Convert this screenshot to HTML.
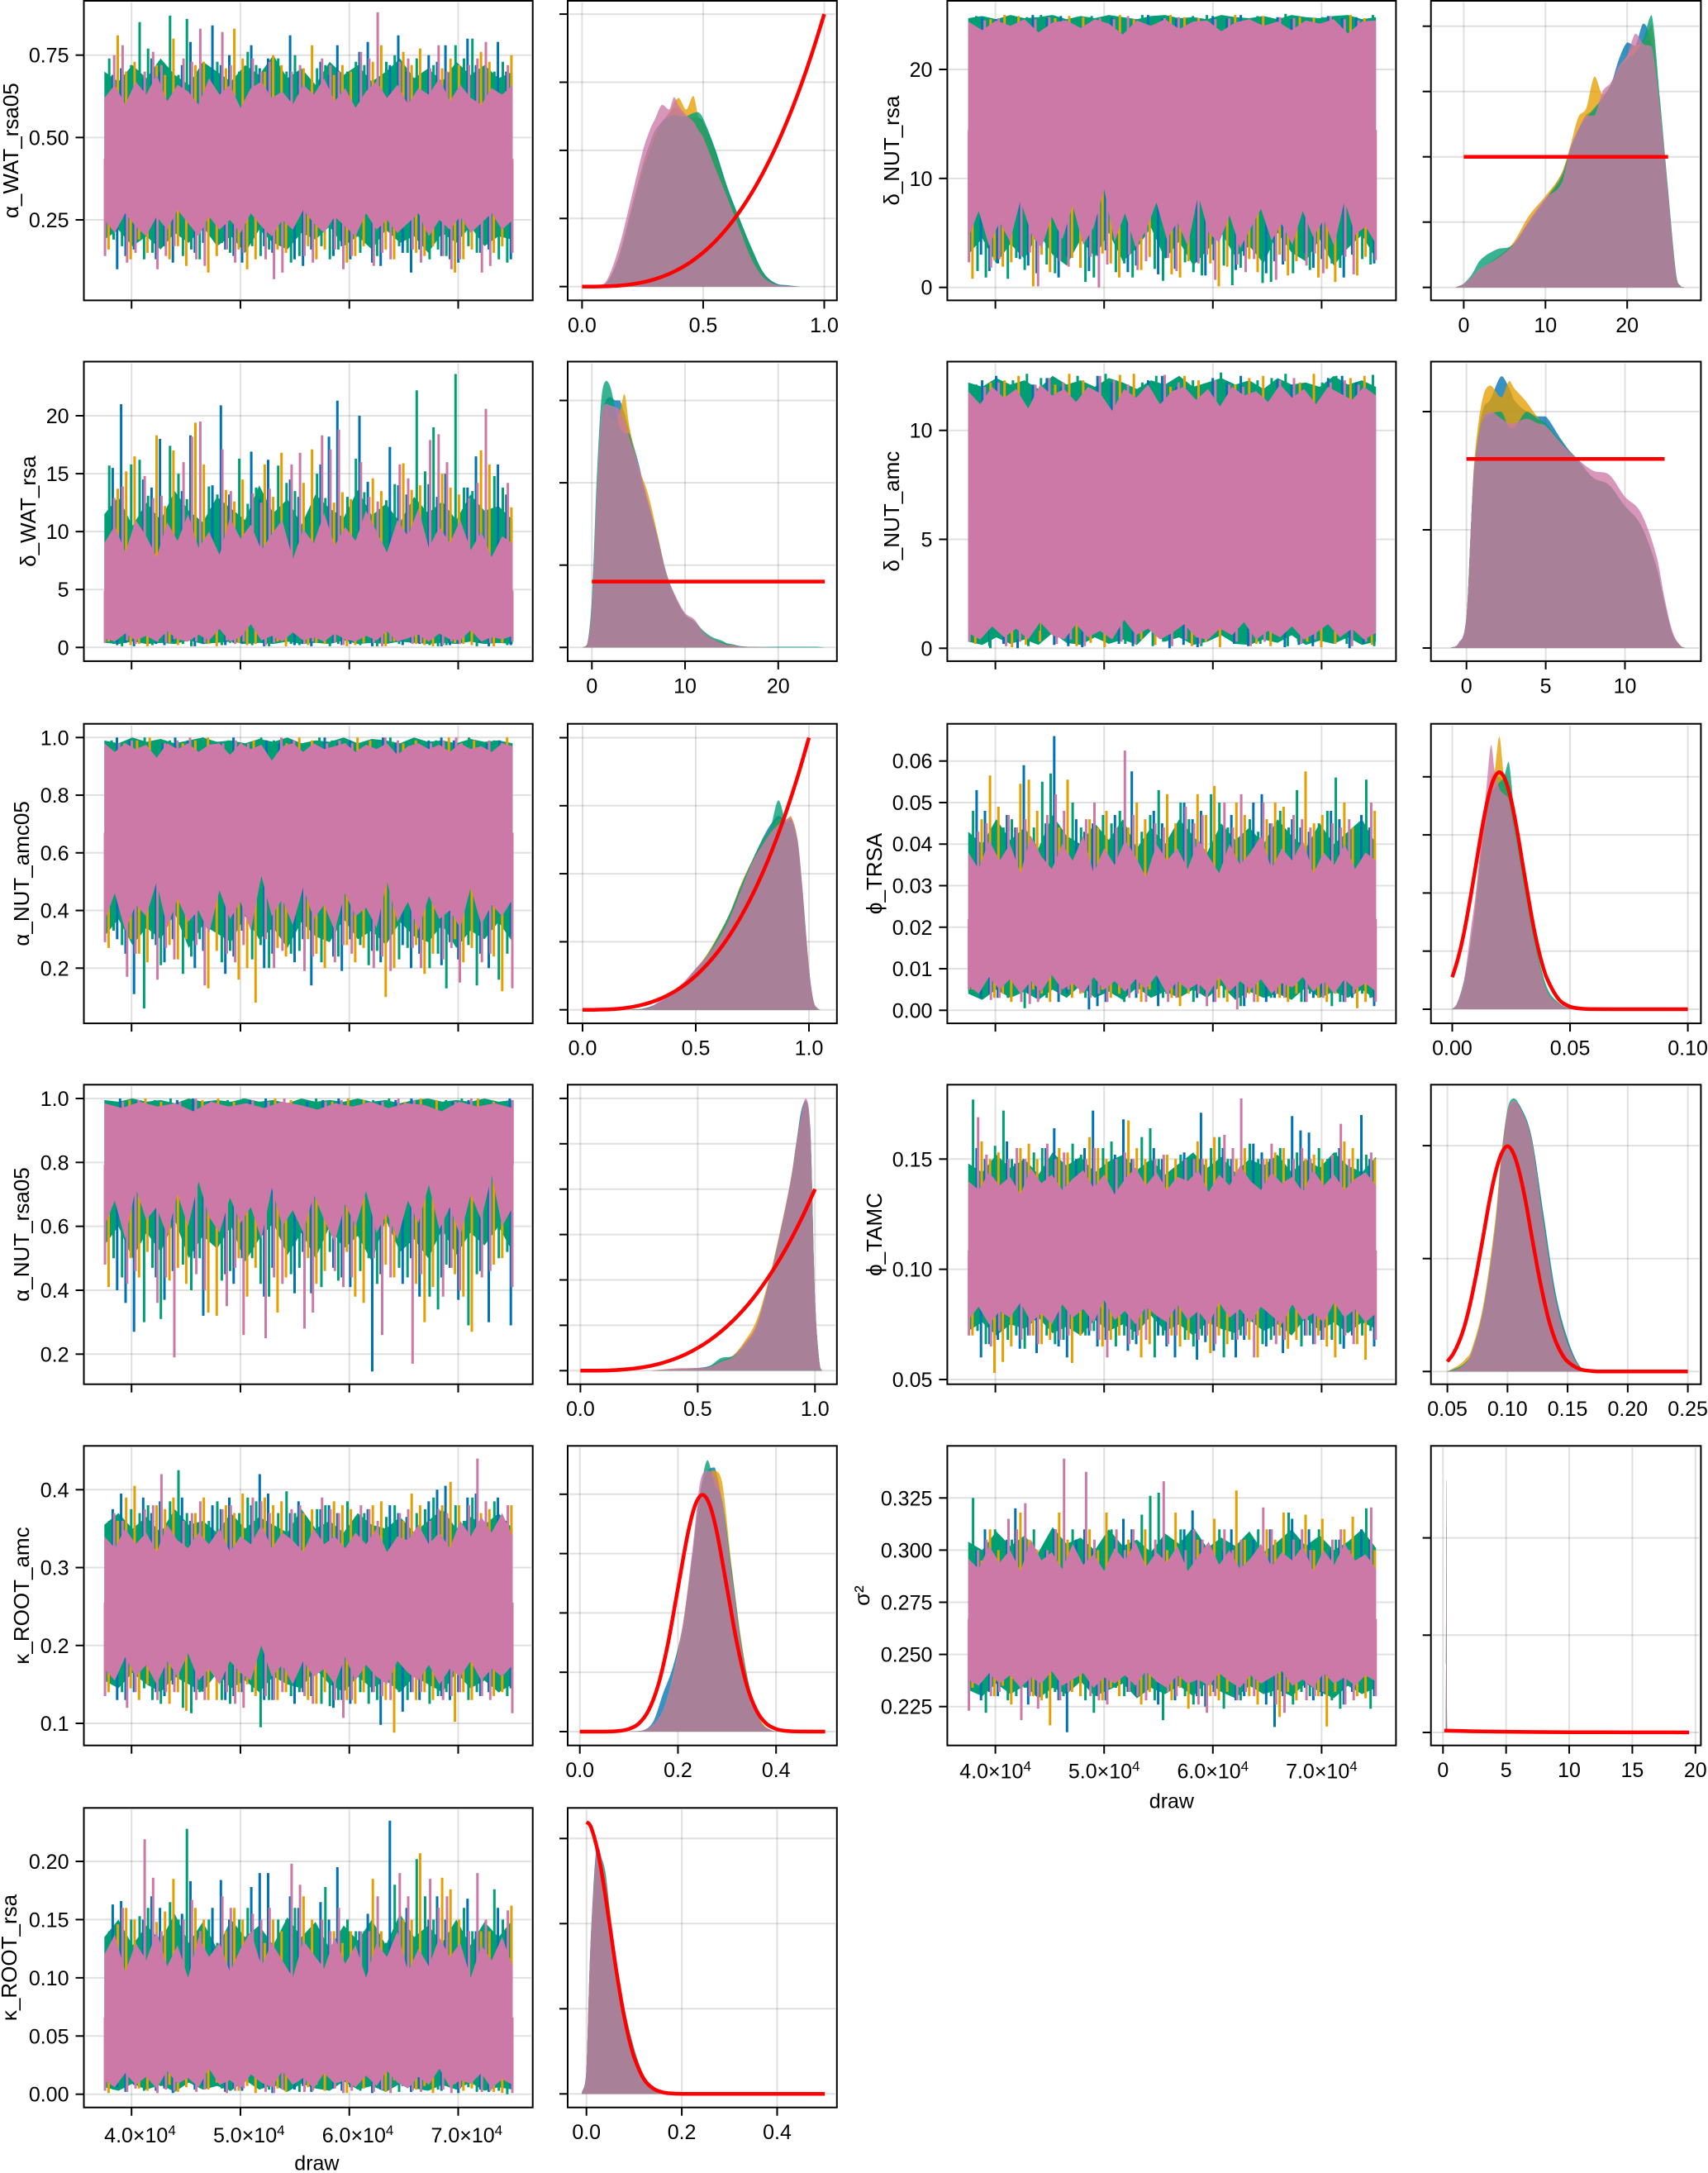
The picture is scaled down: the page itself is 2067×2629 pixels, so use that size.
<!DOCTYPE html>
<html><head><meta charset="utf-8"><title>MCMC trace and density plots</title>
<style>html,body{margin:0;padding:0;background:#fff}svg{display:block}text{font-family:"Liberation Sans","DejaVu Sans",sans-serif;fill:#000}</style>
</head><body>
<svg id="chart" xmlns="http://www.w3.org/2000/svg" width="2067" height="2629" viewBox="0 0 2067 2629"></svg>
<script>
// ---- shared values
const drawFirst = 37500, drawLast = 75000;
const drawTicks = [40000, 50000, 60000, 70000];
const drawTickMantissa = ['4.0', '5.0', '6.0', '7.0'];
const chainNames = ['blue', 'orange', 'green', 'pink'];
const chainColors = ['#0072B2', '#E69F00', '#009E73', '#CC79A7'];
const betaPriorX = [0,.05,.1,.15,.2,.25,.3,.35,.4,.45,.5,.55,.6,.65,.7,.75,.8,.85,.9,.95,1];
const betaPriorPdf = [0,.0005,.004,.0135,.032,.0625,.108,.1715,.256,.3645,.5,.6655,.864,1.0985,1.372,1.6875,2.048,2.4565,2.916,3.4295,4];

// ---- alpha_WAT_rsa05
const awrHiBlue = [.69,.71,.68,.74,.7,.72,.79,.84,.72,.75,.78,.71,.74,.81,.7,.73,.69,.78,.76,.79,.72,.81,.7,.75,.73,.78,.8,.72,.79,.7];
const awrHiOrange = [.81,.7,.73,.72,.69,.8,.72,.73,.71,.83,.74,.7,.75,.72,.71,.78,.69,.72,.7,.73,.78,.76,.72,.77,.71,.74,.72,.76,.73,.75];
const awrHiGreen = [.74,.72,.85,.77,.87,.69,.86,.71,.73,.7,.76,.72,.74,.7,.75,.71,.72,.7,.73,.72,.73,.75,.74,.7,.72,.78,.74,.8,.7,.73];
const awrHiPink = [.75,.78,.7,.76,.72,.74,.73,.83,.82,.72,.74,.7,.73,.7,.72,.74,.72,.7,.76,.74,.88,.73,.74,.71,.78,.7,.72,.74,.79,.72];
const awrLoBlue = [.1,.14,.16,.13,.17,.12,.15,.18,.16,.14,.12,.17,.15,.13,.11,.16,.14,.17,.13,.12,.11,.15,.09,.16,.14,.13,.12,.15,.16,.13];
const awrLoOrange = [.16,.13,.19,.15,.13,.17,.11,.09,.14,.16,.1,.13,.16,.15,.17,.13,.16,.12,.14,.17,.16,.13,.15,.14,.17,.09,.13,.16,.15,.17];
const awrLoGreen = [.19,.17,.13,.15,.18,.14,.16,.13,.18,.15,.17,.14,.16,.12,.14,.17,.13,.16,.15,.18,.14,.17,.15,.13,.16,.14,.17,.15,.13,.12];
const awrLoPink = [.14,.12,.15,.1,.14,.17,.13,.11,.16,.12,.15,.13,.07,.09,.14,.12,.16,.1,.14,.11,.15,.13,.16,.12,.14,.1,.13,.09,.11,.15];
const awrCoreHi = [.62,.66,.6,.67,.63,.69,.61,.66,.64,.6,.68,.63,.66,.59,.65,.67,.62,.64,.6,.66,.63,.68,.61,.65,.59,.64,.67,.62,.66,.6,.65,.63,.68,.61,.66,.62,.6,.65,.63,.66];
const awrCoreLo = [.25,.21,.27,.23,.2,.26,.22,.28,.24,.2,.26,.22,.25,.21,.27,.23,.2,.25,.22,.28,.24,.21,.26,.23,.2,.27,.22,.25,.21,.24,.27,.2,.25,.22,.26,.21,.24,.27,.22,.25];
const awrFringeHi = [.7,.67,.72,.68,.74,.69,.66,.73,.7,.67,.72,.69,.75,.68,.71,.66,.73,.69,.72,.67,.7,.74,.68,.71,.67,.73,.69,.72,.68,.7];
const awrFringeLo = [.19,.22,.17,.2,.16,.21,.18,.23,.17,.2,.15,.22,.18,.16,.21,.19,.23,.17,.2,.16,.22,.18,.2,.15,.21,.18,.23,.17,.2,.19];
const awrDensX = [.05,.1,.15,.2,.25,.28,.3,.33,.36,.38,.4,.43,.46,.48,.5,.55,.6,.65,.7,.75,.8,.85,.9];
const awrDensBlue = [0,.05,.43,1.1,1.78,2.1,2.28,2.42,2.55,2.62,2.6,2.5,2.48,2.48,2.42,2,1.45,1,.55,.2,.05,.02,0];
const awrDensOrange = [0,.05,.42,1.08,1.75,2.05,2.25,2.4,2.55,2.7,2.77,2.6,2.8,2.5,2.4,1.95,1.4,.95,.5,.17,.03,.01,0];
const awrDensGreen = [0,.05,.4,1.05,1.7,2,2.2,2.4,2.5,2.52,2.5,2.5,2.55,2.56,2.47,2.02,1.46,1,.57,.2,.04,.01,0];
const awrDensPink = [0,.08,.55,1.25,1.98,2.3,2.45,2.67,2.6,2.78,2.65,2.52,2.42,2.3,2.19,1.74,1.3,.85,.4,.13,.03,.01,0];

// ---- delta_WAT_rsa
const dwrHiBlue = [15.5,21,14.5,13.8,18,13.5,18.3,14,20.9,13.2,16.9,12.8,16.2,14.5,13,15.8,18.2,21.3,20,14.3,17.3,14,13.2,14.1,13,15,13.8,16.5,15.8,13.2];
const dwrHiOrange = [13.7,15.2,16.5,18.3,12.2,17,19.4,15.8,13.6,12.6,14.5,15.8,13,16.8,14.2,17.1,12.5,13.4,12.8,14.6,13.5,15.9,13.6,14,15,13.8,13.2,17,15.8,12.1];
const dwrHiGreen = [15.7,15.8,16.2,13.1,17.4,15,12.8,13.9,13.2,16.3,12.4,13.8,15.7,14.2,13.5,15,12.9,13,16.3,13.4,12.7,14.1,22.2,15.2,19,23.6,13.8,13.5,14.8,13.8];
const dwrHiPink = [12.9,13.9,14.8,12.9,13.1,16,18.2,19.5,17.1,13.5,13.3,12.5,13.7,15.8,16.8,18.3,17.1,18.8,16,13,12.6,15.8,14.6,17.9,18.4,16,12.9,14.2,20.6,14.2];
const dwrLoBlue = [.2,.4,.1,.3,.2,.5,.1,.3,.2,.4,.3,.1,.4,.2,.3,.1,.4,.2,.3,.1,.5,.2,.4,.3,.1,.2,.3,.4,.1,.2];
const dwrLoOrange = [.5,.2,.3,.1,.4,.2,.5,.3,.1,.4,.2,.3,.5,.1,.2,.4,.3,.1,.2,.4,.1,.5,.3,.2,.1,.4,.3,.2,.1,.4];
const dwrLoGreen = [.3,.1,.6,.2,.4,.3,.1,.7,.2,.4,.2,.6,.1,.3,.2,.5,.1,.3,.2,.4,.1,.3,.6,.2,.1,.2,.6,.1,.4,.2];
const dwrLoPink = [.4,.6,.3,.5,.4,.7,.5,.4,.6,.3,.5,.2,.4,.6,.3,.5,.4,.2,.6,.4,.1,.5,.3,.4,.2,.5,.3,.6,.4,.5];
const dwrCoreHi = [9,10.5,8.2,11,9.6,7.8,10.8,9.2,11.5,8.6,10,8,11.2,9.4,10.6,8.4,9.8,11,7.6,10.2,9,11.6,8.8,10.4,9.2,11.8,10,8.2,11,9.6,12,8.6,10.4,9,11,8.4,10,7.8,9.6,9];
const dwrCoreLo = [.8,.5,1.2,.6,1,.5,1.4,.7,.5,1.1,.6,1.6,.5,.9,2,.6,1,.5,1.3,.6,.9,.5,1.2,.7,.5,1,.6,1.4,.5,.8,1.1,.5,1.2,.7,.6,1.5,.5,.9,.7,1];
const dwrFringeHi = [11.5,13,10.5,12.5,11,13.5,11.8,10.8,13,12,11,14,11.6,12.8,10.6,13.2,12,11.2,13.6,11.4,12.4,10.8,13,11.6,12.6,11,13.2,11.8,12.2,11];
const dwrFringeLo = [.4,.3,.5,.3,.4,.3,.6,.3,.4,.5,.3,.4,.3,.5,.3,.4,.3,.6,.3,.4,.3,.5,.4,.3,.4,.3,.5,.3,.4,.3];
const dwrDensX = [-1,-.5,0,.5,1,1.5,2,2.5,3,3.5,4,5,6,7,8,9,10,11,12,13,14,15,16,18,20,22,24,25];
const dwrDensBlue = [0,.002,.025,.085,.135,.15,.152,.15,.15,.142,.132,.112,.088,.067,.045,.03,.02,.015,.009,.005,.003,.002,.0008,.0002,.0002,.0002,.0002,0];
const dwrDensOrange = [0,.002,.023,.085,.13,.145,.14,.138,.143,.154,.135,.11,.094,.07,.045,.03,.02,.015,.009,.005,.003,.0015,.0005,.0002,0,.0001,0,0];
const dwrDensGreen = [0,.002,.03,.1,.15,.162,.158,.145,.134,.13,.13,.108,.088,.068,.045,.03,.02,.016,.01,.006,.004,.001,.0005,.0002,.0004,.0004,.0004,0];
const dwrDensPink = [0,.002,.025,.09,.14,.148,.147,.146,.144,.137,.128,.11,.09,.068,.045,.031,.021,.017,.009,.005,.0025,.001,.0005,.0002,0,0,0,0];
const dwrPriorX = [0,25];
const dwrPriorPdf = [.04,.04];

// ---- alpha_NUT_amc05
const anaHiBlue = [1,.99,.98,1,.99,.98,1,.99,.98,.99,1,.98,.99,1,.98,.99,1,.99,.98,.99];
const anaHiOrange = [.98,.99,1,.98,.99,1,.98,.99,.98,1,.99,.98,1,.99,.98,.99,1,.98,.99,1];
const anaHiGreen = [.99,1,.98,.99,1,.98,.99,1,.99,.98,1,.99,.98,.99,1,.98,.99,1,.98,.99];
const anaHiPink = [.98,.99,.98,.99,1,.98,.99,.98,1,.99,.98,.99,.98,1,.99,.98,.99,1,.99,.98];
const anaLoBlue = [.3,.25,.11,.28,.22,.3,.2,.26,.18,.24,.33,.2,.25,.22,.3,.14,.24,.19,.3,.26,.22,.28,.2,.25,.21,.29,.23,.25,.2,.31];
const anaLoOrange = [.27,.3,.25,.22,.28,.23,.3,.13,.26,.16,.2,.08,.27,.24,.3,.25,.2,.28,.22,.27,.1,.2,.28,.18,.25,.3,.22,.27,.24,.12];
const anaLoGreen = [.33,.28,.06,.3,.21,.18,.24,.3,.22,.26,.23,.28,.2,.25,.26,.22,.3,.24,.28,.21,.26,.23,.27,.2,.25,.13,.28,.14,.16,.25];
const anaLoPink = [.29,.17,.25,.16,.27,.23,.28,.14,.25,.22,.28,.3,.2,.26,.19,.24,.22,.28,.25,.2,.24,.19,.27,.2,.23,.27,.15,.22,.25,.13];
const anaCoreHi = [.98,.95,.98,.96,.975,.93,.98,.96,.98,.95,.975,.98,.94,.98,.96,.975,.92,.97,.98,.95,.98,.96,.97,.98,.95,.975,.96,.98,.94,.97,.98,.96,.975,.95,.98,.96,.97,.95,.98,.97];
const anaCoreLo = [.36,.46,.33,.42,.38,.5,.34,.44,.36,.4,.32,.47,.37,.43,.33,.52,.38,.44,.35,.48,.37,.42,.33,.46,.38,.41,.34,.5,.36,.43,.33,.45,.37,.4,.34,.48,.35,.42,.38,.44];
const anaFringeHi = [.99,.98,1,.985,.995,.98,.99,1,.985,.99,.98,.995,.985,1,.98,.99,.985,1,.98,.995,.99,.98,1,.985,.99,.98,.995,.985,.99,.98];
const anaFringeLo = [.31,.37,.28,.34,.3,.39,.27,.35,.32,.29,.38,.3,.34,.27,.36,.31,.29,.37,.3,.33,.28,.36,.31,.29,.35,.27,.33,.3,.36,.29];
const anaDensX = [.2,.25,.3,.35,.4,.45,.5,.55,.6,.65,.7,.75,.8,.83,.865,.9,.92,.95,.97,1,1.02,1.04,1.05];
const anaDensBlue = [0,.01,.05,.13,.24,.38,.58,.8,1.1,1.4,1.8,2.2,2.55,2.72,2.85,2.78,2.8,2.45,1.8,.6,.12,.01,0];
const anaDensOrange = [0,.01,.04,.12,.24,.4,.6,.82,1.1,1.42,1.85,2.2,2.5,2.65,2.8,2.8,2.85,2.5,1.8,.6,.12,.01,0];
const anaDensGreen = [0,.01,.04,.12,.25,.4,.6,.8,1.08,1.42,1.83,2.2,2.52,2.68,3.08,2.75,2.8,2.45,1.8,.6,.12,.01,0];
const anaDensPink = [0,.01,.04,.16,.28,.42,.61,.79,1.03,1.35,1.76,2.17,2.45,2.6,2.72,2.8,2.83,2.5,1.84,.63,.14,.02,0];

// ---- alpha_NUT_rsa05
const anrHiBlue = [1,.99,.995,1,.99,.995,1,.99,.995,1,.99,.995,1,.99,.995,1];
const anrHiOrange = [.995,1,.99,.995,1,.99,1,.995,.99,1,.995,.99,1,.995,1,.99];
const anrHiGreen = [.99,.995,1,.99,.995,1,.99,.995,1,.99,.995,1,.99,.995,1,.99];
const anrHiPink = [.99,.995,.99,1,.99,.995,.99,1,.99,.995,.99,1,.995,.99,1,.995];
const anrLoBlue = [.4,.36,.27,.44,.37,.46,.5,.32,.45,.42,.5,.38,.47,.39,.52,.39,.47,.44,.41,.146,.45,.42,.5,.38,.44,.47,.37,.46,.3,.29];
const anrLoOrange = [.41,.5,.44,.52,.43,.47,.42,.33,.32,.5,.38,.47,.33,.44,.5,.42,.46,.52,.38,.36,.48,.44,.42,.3,.41,.45,.38,.27,.48,.5];
const anrLoGreen = [.5,.44,.3,.47,.31,.48,.4,.5,.43,.46,.5,.42,.38,.45,.47,.41,.52,.43,.46,.5,.42,.47,.44,.38,.34,.48,.29,.45,.5,.52];
const anrLoPink = [.48,.42,.46,.36,.44,.19,.45,.4,.35,.47,.26,.25,.44,.42,.28,.33,.46,.41,.44,.5,.26,.44,.17,.45,.38,.47,.4,.44,.46,.41];
const anrCoreHi = [.985,.97,.99,.975,.985,.96,.99,.975,.985,.97,.99,.98,.965,.985,.975,.99,.97,.985,.98,.96,.99,.975,.985,.97];
const anrCoreLo = [.6,.68,.56,.72,.62,.66,.57,.7,.6,.74,.63,.58,.69,.61,.66,.56,.72,.6,.65,.58,.7,.62,.55,.67,.6,.71,.58,.64,.56,.68,.61,.73,.59,.66,.57,.7,.62,.76,.6,.66];
const anrFringeHi = [.995,.99,1,.99,.995,.985,1,.99,.995,.99,1,.99,.995,.985,1,.99,.995,.99,1,.99,.995,.985,.995,1,.99,.995,.99,1,.99,.995];
const anrFringeLo = [.54,.6,.5,.58,.52,.62,.5,.57,.53,.6,.49,.56,.61,.51,.58,.5,.6,.53,.57,.49,.62,.52,.56,.5,.59,.51,.58,.54,.6,.52];
const anrDensX = [.3,.4,.5,.55,.6,.65,.7,.75,.8,.85,.9,.92,.94,.96,.98,1,1.02,1.03];
const anrDensBlue = [0,.03,.06,.1,.22,.33,.6,1,1.85,2.95,4.3,5,5.7,5.95,5.3,1.6,.15,0];
const anrDensOrange = [0,.04,.05,.08,.2,.33,.65,1.1,1.95,3.05,4.3,5,5.55,5.9,5.3,1.6,.15,0];
const anrDensGreen = [0,.02,.05,.1,.28,.32,.55,.95,1.9,3,4.25,5,5.6,5.95,5.35,1.6,.15,0];
const anrDensPink = [0,.05,.06,.08,.2,.3,.6,1,1.9,3,4.3,5,5.6,6,5.4,1.6,.15,0];

// ---- kappa_ROOT_amc
const kraHiBlue = [.375,.395,.39,.37,.385,.39,.36,.38,.375,.39,.38,.42,.395,.37,.385,.375,.38,.37,.365,.375,.38,.37,.365,.385,.4,.405,.39,.395,.39,.36];
const kraHiOrange = [.36,.39,.405,.38,.375,.39,.37,.39,.38,.37,.395,.39,.38,.385,.37,.375,.385,.38,.375,.38,.385,.36,.395,.38,.38,.41,.38,.37,.375,.38];
const kraHiGreen = [.36,.375,.37,.38,.385,.425,.37,.36,.385,.37,.39,.385,.37,.398,.37,.375,.38,.385,.365,.37,.365,.38,.37,.375,.39,.38,.36,.39,.385,.36];
const kraHiPink = [.37,.36,.375,.38,.42,.36,.37,.385,.375,.38,.39,.385,.37,.375,.38,.39,.375,.37,.38,.375,.36,.37,.375,.36,.375,.37,.38,.44,.385,.38];
const kraLoBlue = [.13,.13,.14,.14,.135,.15,.14,.145,.13,.135,.14,.13,.13,.125,.14,.135,.12,.13,.125,.14,.098,.115,.14,.13,.135,.13,.14,.135,.14,.145];
const kraLoOrange = [.14,.145,.13,.15,.125,.14,.116,.13,.13,.14,.15,.135,.13,.14,.13,.125,.14,.13,.125,.14,.13,.088,.13,.14,.13,.102,.14,.13,.135,.14];
const kraLoGreen = [.15,.14,.145,.13,.125,.12,.113,.14,.13,.125,.14,.095,.13,.135,.14,.125,.122,.13,.14,.125,.13,.14,.13,.125,.135,.14,.13,.14,.14,.135];
const kraLoPink = [.135,.12,.14,.13,.14,.14,.13,.13,.14,.125,.12,.135,.13,.14,.135,.125,.13,.107,.13,.14,.135,.13,.14,.14,.13,.135,.14,.135,.13,.113];
const kraCoreHi = [.34,.325,.35,.33,.345,.32,.355,.335,.325,.345,.33,.35,.32,.34,.33,.355,.325,.345,.335,.32,.35,.33,.34,.325,.345,.33,.35,.32,.34,.335,.355,.33,.345,.325,.36,.34,.365,.345,.37,.34];
const kraCoreLo = [.17,.155,.185,.16,.175,.15,.18,.16,.19,.155,.17,.15,.18,.165,.155,.2,.16,.175,.15,.18,.16,.17,.15,.185,.155,.175,.16,.15,.18,.165,.155,.175,.15,.17,.16,.18,.155,.17,.16,.175];
const kraFringeHi = [.355,.37,.35,.365,.345,.375,.355,.36,.345,.37,.35,.365,.355,.345,.375,.35,.36,.345,.37,.355,.35,.365,.345,.36,.375,.35,.365,.355,.37,.35];
const kraFringeLo = [.155,.145,.165,.15,.14,.16,.15,.14,.165,.145,.155,.14,.16,.15,.145,.17,.15,.14,.16,.145,.155,.14,.16,.15,.14,.165,.145,.155,.14,.15];
const kraDensX = [.1,.13,.15,.17,.19,.21,.23,.245,.26,.275,.29,.31,.33,.35,.37,.39,.41];
const kraDensBlue = [0,.05,.35,1.3,2.2,3.6,6,8,8.8,8.9,7.7,5.1,2.8,1.1,.3,.05,0];
const kraDensOrange = [0,.04,.2,.7,1.9,3.6,6,7.9,8.7,8.8,8.4,5.5,3,1.2,.35,.05,0];
const kraDensGreen = [0,.04,.22,.7,1.8,3.4,6,8,9.15,8.3,7.8,5.4,2.9,1.2,.3,.05,0];
const kraDensPink = [0,.05,.25,.75,1.9,3.6,6.2,8.4,8.8,8.6,7.8,5.2,2.8,1.1,.3,.05,0];
const kraPriorX = [0,.05,.08,.1,.12,.14,.16,.18,.2,.22,.235,.25,.265,.28,.3,.32,.34,.36,.38,.4,.42,.45,.5];
const kraPriorPdf = [0,0,.025,.089,.27,.71,1.58,3,4.84,6.66,7.63,7.98,7.63,6.66,4.84,3,1.58,.71,.27,.089,.025,.002,0];

// ---- kappa_ROOT_rsa
const krrHiBlue = [.163,.166,.15,.17,.16,.155,.183,.16,.184,.15,.178,.19,.19,.17,.16,.165,.15,.195,.14,.155,.235,.14,.16,.15,.17,.15,.168,.14,.16,.14];
const krrHiOrange = [.146,.16,.15,.148,.157,.185,.16,.15,.14,.16,.15,.13,.15,.14,.17,.15,.14,.13,.14,.185,.14,.15,.15,.207,.186,.176,.15,.14,.14,.162];
const krrHiGreen = [.14,.15,.153,.16,.165,.15,.228,.15,.13,.15,.16,.14,.15,.15,.16,.14,.178,.15,.14,.14,.13,.18,.202,.17,.15,.14,.16,.14,.176,.15];
const krrHiPink = [.135,.16,.219,.186,.14,.15,.167,.14,.17,.16,.155,.15,.16,.198,.18,.15,.14,.16,.14,.14,.17,.19,.17,.185,.16,.17,.14,.19,.15,.158];
const krrLoBlue = [.006,.002,.008,.003,.005,.001,.004,.007,.002,.005,.003,.006,.001,.004,.007,.002,.005,.003,.006,.001,.004,.007,.002,.005,.003,.006,.001,.004,.002,.005];
const krrLoOrange = [.001,.022,.005,.003,.008,.002,.006,.004,.01,.003,.007,.001,.005,.002,.006,.008,.003,.001,.01,.005,.002,.012,.004,.007,.001,.009,.003,.005,.002,.001];
const krrLoGreen = [.004,.012,.003,.016,.007,.012,.01,.015,.005,.003,.011,.006,.004,.014,.002,.009,.005,.013,.003,.012,.006,.002,.009,.016,.004,.008,.006,.002,.003,0];
const krrLoPink = [.003,.002,.005,.001,.004,.003,.002,.004,.001,.003,.005,.002,.001,.004,.002,.003,.005,.001,.003,.002,.004,.001,.003,.002,.004,.001,.005,.002,.003,.001];
const krrCoreHi = [.12,.137,.105,.13,.115,.14,.11,.128,.1,.135,.118,.13,.105,.125,.14,.11,.13,.115,.1,.132,.12,.108,.135,.112,.128,.1,.13,.118,.14,.105,.125,.11,.135,.118,.13,.1,.128,.115,.135,.11];
const krrCoreLo = [.012,.006,.018,.008,.015,.005,.02,.009,.014,.006,.022,.008,.012,.005,.017,.01,.006,.02,.008,.014,.005,.018,.009,.012,.006,.016,.007,.02,.01,.005,.015,.008,.022,.006,.012,.009,.018,.005,.013,.008];
const krrFringeHi = [.135,.15,.128,.145,.132,.155,.13,.148,.125,.15,.135,.145,.128,.152,.135,.148,.125,.145,.132,.15,.128,.155,.135,.145,.13,.15,.128,.148,.135,.15];
const krrFringeLo = [.006,.003,.009,.004,.008,.002,.01,.004,.007,.003,.012,.004,.008,.002,.009,.005,.003,.011,.004,.007,.002,.009,.005,.003,.008,.004,.01,.003,.006,.004];
const krrDensX = [-.01,0,.005,.01,.02,.027,.04,.05,.06,.08,.1,.12,.14,.16,.18];
const krrDensBlue = [0,.7,3,4.9,7.1,7.2,6.2,5.1,4,2.4,1.3,.55,.18,.05,0];
const krrDensOrange = [0,.7,3,4.8,6.8,6.9,6.4,5.3,4,2.4,1.3,.5,.17,.04,0];
const krrDensGreen = [0,.7,2.9,4.7,6.7,7,6.5,5.2,4.1,2.5,1.35,.55,.18,.05,0];
const krrDensPink = [0,.7,3,4.76,6.9,7.14,6.3,5.16,4.03,2.4,1.3,.5,.16,.04,0];
const krrPriorX = [0,.005,.01,.02,.03,.04,.05,.06,.07,.08,.09,.1,.12,.14,.16,.18,.2,.25,.3,.4,.5];
const krrPriorPdf = [7.98,7.94,7.82,7.35,6.66,5.79,4.84,3.87,2.99,2.21,1.58,1.08,.45,.16,.047,.012,.003,0,0,0,0];

// ---- delta_NUT_rsa
const dnrHiBlue = [24.8,24.6,25,24.7,24.9,24.5,24.8,25,24.7,24.6,24.9,24.7,25,24.8,24.6,24.9,24.7,24.8];
const dnrHiOrange = [24.6,25,24.9,24.7,24.9,24.8,25,24.6,25,24.8,24.7,25,24.6,24.9,24.8,24.7,25,24.7];
const dnrHiGreen = [24.9,24.7,24.8,25,24.6,24.9,24.7,25,24.8,24.9,25,24.7,24.9,24.6,25.1,24.8,24.9,25];
const dnrHiPink = [24.5,24.7,24.6,24.8,24.5,24.7,24.6,24.9,24.7,24.8,24.6,24.7,24.5,24.8,24.7,24.9,24.6,24.5];
const dnrLoBlue = [3,1.5,2.2,2.6,2,1.3,.9,2.8,1.5,2.9,3.4,1.4,2,1.2,2.7,1.7,2.3,1.1,2.5,1.6,2.9,1.3,2.4,2.1,3.1,1.8,2.6,.9,3,2.2];
const dnrLoOrange = [.8,2.5,1.9,2.3,.1,3,1.4,2.7,1.8,3.1,2.2,.9,1.6,2.8,1.2,.9,2.4,2.2,.1,1.9,2.6,1.4,3,1.1,2.4,.9,1.7,.5,1.1,2.8];
const dnrLoGreen = [1.5,.9,.8,2.7,1.6,2.1,1.3,3,.5,.9,1.4,2.2,.9,1.7,.6,2.3,1.4,1.1,2,.2,1.8,.4,.5,1.3,2.9,1.6,2.2,1.8,2.6,2.1];
const dnrLoPink = [2.3,1.8,2.6,2.9,3.2,.1,2.4,1.9,2.8,0,2.1,3,1.6,2.4,2.7,1.5,2.2,3,.7,2.1,1.4,2.6,.7,2.4,2,3.1,1.3,2.8,1.2,2.5];
const dnrCoreHi = [24.4,23.6,24.5,24,24.6,23.4,24.3,24.5,23.8,24.6,24.2,23.2,24.5,24,24.6,23.7,24.4,24.5,23.5,24.3,24.6,24,24.4,23.6,24.5,24.2,24.6,23.3,24.4,24.5];
const dnrCoreLo = [4.5,7,3.8,6,4.2,8,5,3.6,6.5,4.4,7.5,3.9,5.5,9,4.2,6.8,3.7,5.2,7.8,4.4,6,3.8,8.5,5,4.1,6.6,3.6,5.4,7.2,4.3,5.8,3.9,7,4.6,6.2,3.8,8,4.8,5.6,4];
const dnrFringeHi = [24.7,24.9,24.6,25,24.7,24.8,25,24.6,24.9,24.7,25,24.8,24.6,24.9,25,24.7,24.8,24.6,25,24.8,24.7,24.9,24.6,25,24.8,24.7,24.9,25,24.6,24.8];
const dnrFringeLo = [3,4.5,2.2,4,2.6,5,3,2,4.4,2.8,5,2.4,3.6,5.5,2.6,4.2,2,3.4,5,2.8,3.8,2.2,5,3.2,2.4,4.4,2,3.6,4.8,2.6];
const dnrDensX = [-1,0,1,2,4,6,8,10,12,13,14,15,16,17,18,19,20,21,22,23,24,25,26,26.5,27];
const dnrDensBlue = [0,.001,.003,.0055,.009,.013,.02,.027,.035,.042,.048,.053,.054,.058,.062,.07,.075,.074,.0808,.074,.055,.029,.0036,.0005,0];
const dnrDensOrange = [0,.001,.003,.0055,.009,.0135,.022,.028,.035,.043,.052,.055,.0646,.059,.062,.067,.071,.074,.075,.0804,.056,.029,.0036,.0005,0];
const dnrDensGreen = [0,.0012,.004,.0083,.0116,.013,.02,.027,.034,.042,.048,.052,.055,.058,.062,.067,.07,.072,.0762,.0834,.058,.03,.004,.0005,0];
const dnrDensPink = [0,.0011,.0032,.0057,.0087,.0129,.0205,.0273,.032,.0424,.0484,.0526,.0526,.06,.0627,.0678,.0711,.0777,.0745,.0737,.0551,.029,.0036,.0005,0];
const dnrPriorX = [0,25];
const dnrPriorPdf = [.04,.04];

// ---- delta_NUT_amc
const dnaHiBlue = [12.3,12.5,12.1,12.4,12,12.5,12.2,12.3,12.5,12,12.4,12.2,12.5,12.3,12.1,12.4,12.5,12.2];
const dnaHiOrange = [12.2,12.3,12.5,12.1,12.6,12.3,12.55,12.6,12,12.5,12.3,12.1,12.4,12.5,12.2,12.6,12.4,12.5];
const dnaHiGreen = [12.1,12.3,12.6,12.4,12.5,12,12.6,12.2,12.5,12.3,12.1,12.65,12.3,12.4,12.6,12.2,12.5,12.55];
const dnaHiPink = [12,12.2,12.1,12.4,12.2,12.5,12.3,12.1,12.55,12.2,12.3,12.1,12,12.3,12.4,12.2,12.3,12.1];
const dnaLoBlue = [.1,.2,0,.15,.1,.05,.2,.1,0,.15,.05,.2,.1,.05,.15,.1,0,.2];
const dnaLoOrange = [.2,.05,.15,.3,.1,.25,.05,.4,.15,.1,.3,.05,.2,.1,.3,.05,.2,.15];
const dnaLoGreen = [.3,0,.4,.1,.8,1,3.6,.7,.5,.2,.1,.3,.6,.1,.8,.4,.7,.2,.1,.3,.5,.9,.2,.1];
const dnaLoPink = [.3,.1,.3,.2,.4,.1,.3,.2,.1,.4,.2,.3,.1,.3,.2,.4,.1,.3];
const dnaCoreHi = [11.8,11.2,12,11.5,11.9,11,12.1,11.6,11.9,11.3,12,11.7,10.9,11.9,11.5,12.1,11.2,11.8,12,11.4,11.9,11.1,12,11.6,11.8,11.3,12.1,11.5,11.9,11.2,12,11.7,11.4,12,11.6];
const dnaCoreLo = [.7,.4,1,.5,.9,.4,1.2,.6,.4,1.1,.5,.8,.4,1.3,.6,.9,.4,.7,1.1,.5,.4,.9,.6,1.2,.4,.8,.5,1,.4,.7,1.1,.5,.9,.4,.7];
const dnaFringeHi = [12.2,12,12.4,12.1,12.3,11.9,12.5,12.1,12.3,12,12.4,12.2,11.9,12.3,12.1,12.5,12,12.2,12.4,12.1,12.3,11.9,12.4,12.1,12.2,12,12.5,12.1,12.3,12];
const dnaFringeLo = [.3,.15,.5,.2,.4,.15,.7,.25,.15,.5,.2,.4,.15,.8,.3,.5,.15,.3,.6,.2,.15,.4,.25,.6,.15,.35,.2,.5,.15,.3];
const dnaDensX = [-1,-.5,0,.3,.5,1,1.5,2.2,2.7,3,3.8,4.5,5,6,7,8,9,10,11,12,12.5,13,13.5,13.8];
const dnaDensBlue = [0,.002,.013,.054,.077,.1,.105,.115,.11,.105,.1,.098,.098,.088,.079,.072,.068,.06,.052,.034,.019,.006,.001,0];
const dnaDensOrange = [0,.002,.013,.054,.08,.105,.111,.106,.113,.11,.104,.0975,.094,.086,.078,.072,.069,.06,.052,.034,.019,.006,.001,0];
const dnaDensGreen = [0,.002,.013,.054,.077,.096,.099,.1,.093,.093,.1,.097,.095,.087,.08,.072,.069,.06,.052,.034,.019,.006,.001,0];
const dnaDensPink = [0,.002,.013,.054,.077,.096,.1,.097,.095,.095,.097,.095,.094,.0865,.08,.075,.0734,.064,.0573,.0387,.021,.007,.001,0];
const dnaPriorX = [0,12.5];
const dnaPriorPdf = [.08,.08];

// ---- phi_TRSA
const ptrHiBlue = [.053,.048,.047,.044,.059,.045,.066,.046,.043,.045,.047,.044,.0575,.048,.045,.05,.046,.048,.044,.047,.05,.052,.045,.046,.044,.043,.048,.046,.047,.044];
const ptrHiOrange = [.046,.0565,.049,.0545,.0555,.048,.044,.0555,.046,.044,.048,.044,.05,.046,.052,.045,.052,.047,.054,.05,.047,.046,.05,.049,.0575,.045,.047,.05,.044,.048];
const ptrHiGreen = [.048,.045,.044,.046,.044,.055,.057,.05,.044,.047,.045,.048,.043,.047,.053,.05,.046,.052,.05,.044,.046,.043,.048,.044,.053,.045,.048,.056,.043,.0555];
const ptrHiPink = [.043,.045,.047,.044,.046,.047,.052,.048,.046,.05,.044,.0625,.047,.045,.044,.049,.045,.047,.05,.044,.052,.05,.045,.047,.046,.044,.045,.044,.046,.05];
const ptrLoBlue = [.003,.004,.003,.005,.004,.003,.002,.004,.0002,.001,.002,.004,.003,.001,.004,.005,.003,.004,.002,.003,.001,.002,.003,.004,.002,.003,.004,.002,.003,.001];
const ptrLoOrange = [.005,.003,.004,.002,.005,.004,.002,.003,.004,.005,.003,.004,.002,.005,.003,.001,.004,.005,.003,.002,.004,.002,.003,.002,.004,.003,.002,.004,.0005,.002];
const ptrLoGreen = [.004,.005,.003,.004,.0005,.003,.005,.004,.003,.005,.004,.002,.005,.004,.003,.004,.002,.004,.003,.005,.001,.004,.003,.005,.002,.004,.001,.002,.004,.003];
const ptrLoPink = [.005,.0025,.003,.002,.0015,.002,.004,.005,.003,.004,.002,.003,.004,.002,.002,.003,.004,.001,.002,.0002,.003,.002,.004,.003,.002,.005,.003,.002,.004,.002];
const ptrCoreHi = [.038,.034,.041,.036,.04,.033,.042,.037,.034,.04,.036,.042,.033,.039,.035,.041,.037,.032,.04,.036,.039,.034,.041,.037,.033,.04,.035,.038,.042,.034,.039,.036,.041,.033,.038,.035,.04,.034,.038,.036];
const ptrCoreLo = [.006,.004,.008,.005,.0075,.004,.007,.0045,.0085,.005,.0065,.004,.008,.005,.007,.0045,.0075,.005,.0085,.004,.007,.005,.0065,.004,.008,.0045,.007,.005,.0075,.004,.0065,.0055,.008,.0045,.007,.004,.0075,.005,.0065,.0045];
const ptrFringeHi = [.043,.04,.046,.041,.044,.039,.047,.042,.04,.045,.041,.046,.039,.044,.04,.046,.042,.038,.045,.041,.044,.04,.046,.042,.039,.045,.04,.043,.046,.04];
const ptrFringeLo = [.004,.0025,.005,.003,.0045,.0025,.005,.003,.006,.003,.0045,.0025,.0055,.003,.0045,.003,.005,.003,.006,.0025,.0045,.003,.004,.0025,.0055,.003,.0045,.003,.005,.0025];
const ptrDensX = [0,.002,.005,.008,.01,.0125,.0145,.0165,.018,.02,.022,.024,.027,.03,.035,.04,.045,.05,.055];
const ptrDensBlue = [0,.8,3.5,11,18,28,34,38,40,40,39,37,29,22,11,3.4,1,.1,0];
const ptrDensOrange = [0,.8,4,12,19,29,35,40,41,46.9,40,37,29,22,11,3.4,1,.1,0];
const ptrDensGreen = [0,1,5,12,18,27,33,37,38,39,40,42.6,31,23,12,4,1.2,.15,0];
const ptrDensPink = [0,1,5,14,20,30,38,45.5,41,38,37,36,29,22,11,3.3,1,.1,0];
const ptrPriorX = [0,.0025,.005,.0075,.01,.0125,.015,.0175,.02,.0225,.025,.0275,.03,.0325,.035,.0375,.04,.045,.05,.055,.06,.07,.08,.1];
const ptrPriorPdf = [5.5,8.8,13.2,18.7,24.7,30.8,36,39.5,40.8,39.5,36,30.8,24.7,18.7,13.2,8.8,5.5,1.8,.45,.09,.013,0,0,0];

// ---- phi_TAMC
const ptaHiBlue = [.155,.15,.158,.148,.15,.155,.164,.15,.155,.172,.152,.168,.15,.155,.15,.153,.15,.171,.155,.15,.157,.153,.15,.1695,.163,.162,.15,.155,.17,.15];
const ptaHiOrange = [.158,.15,.153,.155,.157,.15,.155,.153,.16,.155,.15,.1675,.155,.15,.152,.15,.158,.15,.16,.15,.155,.15,.153,.155,.15,.152,.15,.158,.155,.15];
const ptaHiGreen = [.177,.156,.172,.15,.153,.155,.15,.157,.152,.155,.158,.15,.16,.164,.15,.152,.15,.155,.16,.15,.157,.15,.155,.15,.153,.155,.15,.153,.15,.152];
const ptaHiPink = [.169,.152,.15,.155,.15,.157,.15,.153,.15,.155,.15,.153,.15,.15,.152,.15,.15,.15,.161,.155,.1775,.15,.157,.15,.155,.15,.152,.166,.15,.153];
const ptaLoBlue = [.06,.066,.068,.064,.07,.062,.065,.06,.07,.065,.068,.063,.066,.07,.065,.06,.059,.067,.063,.06,.068,.065,.07,.062,.07,.066,.068,.064,.07,.065];
const ptaLoOrange = [.07,.053,.058,.065,.07,.066,.068,.0575,.07,.065,.068,.07,.06,.066,.07,.065,.068,.062,.07,.066,.068,.06,.07,.064,.068,.07,.065,.06,.066,.059];
const ptaLoGreen = [.072,.066,.068,.07,.064,.07,.066,.068,.07,.072,.065,.07,.068,.06,.07,.068,.065,.07,.06,.068,.07,.066,.068,.072,.065,.07,.068,.066,.07,.072];
const ptaLoPink = [.07,.065,.072,.068,.07,.066,.068,.07,.072,.068,.06,.066,.07,.068,.066,.07,.068,.07,.066,.068,.07,.06,.066,.068,.07,.066,.068,.07,.066,.068];
const ptaCoreHi = [.14,.136,.144,.138,.142,.134,.146,.139,.143,.136,.141,.145,.137,.143,.134,.141,.146,.138,.144,.136,.142,.14,.145,.135,.143,.138,.147,.14,.136,.144,.139,.142,.135,.145,.138,.143,.136,.141,.144,.138];
const ptaCoreLo = [.077,.083,.075,.081,.078,.085,.076,.08,.075,.084,.078,.082,.076,.086,.077,.081,.075,.083,.079,.076,.084,.077,.081,.075,.085,.078,.082,.076,.083,.079,.075,.084,.077,.08,.076,.085,.078,.082,.076,.08];
const ptaFringeHi = [.148,.144,.152,.146,.15,.143,.153,.147,.151,.144,.149,.152,.145,.15,.143,.148,.153,.146,.151,.144,.15,.147,.152,.144,.15,.146,.153,.147,.144,.151];
const ptaFringeLo = [.072,.076,.07,.075,.073,.078,.071,.074,.07,.077,.072,.075,.071,.079,.072,.075,.07,.076,.073,.071,.077,.072,.075,.07,.078,.072,.076,.071,.076,.073];
const ptaDensX = [.05,.055,.06,.065,.07,.08,.09,.095,.1,.105,.11,.12,.13,.14,.15,.16,.17];
const ptaDensBlue = [0,.1,.3,.7,1.5,5.4,12.6,18.6,22.7,23.8,23.6,20.8,13.9,7,2.9,.5,0];
const ptaDensOrange = [0,.3,.6,1.1,1.9,6,13.6,19.4,23,23.7,23.3,20.4,13,6.4,2.5,.4,0];
const ptaDensGreen = [0,.2,.4,.8,1.6,5.6,13,19,23.2,24.2,23.6,20.8,13.6,6.6,2.7,.5,0];
const ptaDensPink = [0,.1,.3,.7,1.6,5.6,13,19,23,24,23.5,20.6,13.2,6.4,2.5,.4,0];
const ptaPriorX = [.05,.055,.06,.065,.07,.075,.08,.085,.09,.095,.1,.105,.11,.115,.12,.125,.13,.135,.14,.145,.15,.16,.17,.18,.25];
const ptaPriorPdf = [.88,1.59,2.7,4.3,6.5,9.13,12.1,15.1,17.6,19.3,19.95,19.3,17.6,15.1,12.1,9.13,6.5,4.3,2.7,1.59,.88,.22,.044,0,0];

// ---- sigma squared
const sigHiBlue = [.3,.31,.305,.32,.305,.3,.31,.305,.31,.3,.305,.315,.31,.3,.305,.31,.319,.305,.3,.31,.305,.3,.31,.315,.305,.31,.3,.305,.31,.305];
const sigHiOrange = [.295,.31,.3,.318,.305,.3,.318,.305,.31,.3,.318,.305,.3,.31,.3,.318,.305,.3,.315,.3286,.305,.31,.305,.318,.317,.3,.315,.31,.316,.3];
const sigHiGreen = [.325,.31,.3,.305,.31,.3,.305,.31,.3,.305,.31,.3,.317,.326,.3275,.31,.305,.3,.31,.3,.305,.31,.3,.318,.305,.31,.3,.305,.3,.32];
const sigHiPink = [.3,.305,.315,.31,.3225,.3,.31,.3438,.3375,.305,.31,.3,.31,.305,.333,.3,.31,.305,.31,.3,.305,.3205,.31,.305,.31,.3,.305,.31,.3,.3205];
const sigLoBlue = [.228,.232,.23,.235,.226,.23,.228,.2127,.234,.23,.228,.232,.23,.226,.234,.228,.23,.225,.232,.228,.23,.226,.2152,.23,.234,.228,.23,.226,.232,.23];
const sigLoOrange = [.234,.23,.235,.226,.23,.228,.216,.232,.23,.228,.234,.23,.226,.232,.228,.234,.224,.23,.228,.232,.23,.226,.22,.232,.228,.23,.2155,.232,.23,.229];
const sigLoGreen = [.232,.222,.228,.23,.234,.229,.232,.23,.228,.222,.234,.23,.232,.228,.2185,.23,.226,.23,.224,.232,.228,.234,.23,.226,.232,.23,.228,.224,.232,.224];
const sigLoPink = [.223,.23,.232,.2185,.23,.224,.228,.232,.23,.228,.226,.232,.23,.228,.232,.23,.226,.222,.23,.228,.232,.23,.226,.222,.228,.23,.232,.226,.228,.23];
const sigCoreHi = [.296,.291,.302,.294,.3,.29,.305,.295,.299,.291,.303,.293,.298,.29,.301,.295,.304,.292,.299,.294,.302,.29,.297,.304,.293,.3,.291,.296,.303,.292,.299,.295,.302,.29,.3,.293,.303,.295,.298,.291];
const sigCoreLo = [.238,.235,.241,.236,.24,.234,.239,.236,.242,.235,.238,.241,.234,.239,.236,.24,.235,.242,.237,.234,.24,.236,.238,.235,.241,.237,.234,.24,.236,.239,.242,.235,.238,.234,.241,.236,.239,.235,.24,.237];
const sigFringeHi = [.304,.3,.309,.302,.307,.299,.311,.303,.306,.3,.31,.302,.305,.299,.308,.303,.311,.301,.306,.302,.309,.299,.304,.31,.302,.307,.3,.304,.31,.301];
const sigFringeLo = [.233,.23,.236,.231,.235,.229,.234,.231,.237,.23,.233,.236,.229,.234,.231,.235,.23,.237,.232,.229,.235,.231,.233,.23,.236,.232,.229,.235,.231,.234];
const sigDensX = [.2,.22,.24,.25,.26,.27,.28,.29,.3,.32,.34];
const sigDensBlue = [0,.5,7,17,25,26,21,11,5,.6,0];
const sigDensOrange = [0,.5,7,17,25,26,21,11,5,.6,0];
const sigDensGreen = [0,.5,7,17,25.5,26,21,11,5,.6,0];
const sigDensPink = [0,.5,7,17,25.5,26,21,11,5,.6,0];
const sigPriorX = [.1,2.5,5,7.5,10,12.5,15,17.5,19.5];
const sigPriorPdf = [.196,.121,.074,.045,.027,.016,.01,.006,.004];

// ---- axis tick values and labels
const awrYTicks = [.25,.5,.75];
const awrYLabels = ['0.25','0.50','0.75'];
const dwrYTicks = [0,5,10,15,20];
const dwrYLabels = ['0','5','10','15','20'];
const unitYTicks = [.2,.4,.6,.8,1];
const unitYLabels = ['0.2','0.4','0.6','0.8','1.0'];
const kraYTicks = [.1,.2,.3,.4];
const kraYLabels = ['0.1','0.2','0.3','0.4'];
const krrYTicks = [0,.05,.1,.15,.2];
const krrYLabels = ['0.00','0.05','0.10','0.15','0.20'];
const dnrYTicks = [0,10,20];
const dnrYLabels = ['0','10','20'];
const dnaYTicks = [0,5,10];
const dnaYLabels = ['0','5','10'];
const ptrYTicks = [0,.01,.02,.03,.04,.05,.06];
const ptrYLabels = ['0.00','0.01','0.02','0.03','0.04','0.05','0.06'];
const ptaYTicks = [.05,.1,.15];
const ptaYLabels = ['0.05','0.10','0.15'];
const sigYTicks = [.225,.25,.275,.3,.325];
const sigYLabels = ['0.225','0.250','0.275','0.300','0.325'];

// ---- layout (pixels)
const colL = {tL:101.5, tR:644.7, dL:687, dR:1012.8, x40:159.2, x70:554.5};
const colR = {tL:1146.4, tR:1689.4, dL:1731.7, dR:2058.4, x40:1204.6, x70:1599.4};

const svg = document.getElementById('chart');
const NS = 'http://www.w3.org/2000/svg';
function make(tag, parent, attrs) {
  const e = document.createElementNS(NS, tag);
  for (const k in attrs) e.setAttribute(k, attrs[k]);
  parent.appendChild(e);
  return e;
}
function linear(v0, p0, v1, p1) { return v => p0 + (v - v0) * (p1 - p0) / (v1 - v0); }
function mark(e, name) {
  
  
  return e;
}
const GRID = 'rgba(0,0,0,0.12)';

// Smooth curve through points; control points are clamped so it never overshoots.
function smooth(pts) {
  if (pts.length < 3) return pts.map((p, i) => (i ? 'L' : 'M') + p[0].toFixed(1) + ' ' + p[1].toFixed(1)).join('');
  let d = 'M' + pts[0][0].toFixed(1) + ' ' + pts[0][1].toFixed(1);
  for (let i = 0; i < pts.length - 1; i++) {
    const p0 = pts[Math.max(i - 1, 0)], p1 = pts[i], p2 = pts[i + 1], p3 = pts[Math.min(i + 2, pts.length - 1)];
    const lo = Math.min(p1[1], p2[1]), hi = Math.max(p1[1], p2[1]);
    const dx = (p2[0] - p1[0]) / 3;
    const s1 = (p2[1] - p0[1]) / (p2[0] - p0[0] || 1), s2 = (p3[1] - p1[1]) / (p3[0] - p1[0] || 1);
    const c1y = Math.min(hi, Math.max(lo, p1[1] + s1 * dx));
    const c2y = Math.min(hi, Math.max(lo, p2[1] - s2 * dx));
    d += 'C' + (p1[0] + dx).toFixed(1) + ' ' + c1y.toFixed(1) + ' ' + (p2[0] - dx).toFixed(1) + ' ' + c2y.toFixed(1) + ' ' + p2[0].toFixed(1) + ' ' + p2[1].toFixed(1);
  }
  return d;
}

function axisDecor(g, box, xTicks, xScale, yTicks, yScale, prefix) {
  const gg = mark(make('g', g, {}), prefix + '-gridlines');
  xTicks.forEach(v => {
    mark(make('line', gg, {x1:xScale(v), x2:xScale(v), y1:box.t + 2, y2:box.b, stroke:GRID, 'stroke-width':2}), prefix + '-x-gridline');
  });
  yTicks.forEach(v => {
    mark(make('line', gg, {x1:box.l + 2, x2:box.r - 2, y1:yScale(v), y2:yScale(v), stroke:GRID, 'stroke-width':2}), prefix + '-y-gridline');
  });
}
function axisFrame(g, box, xTicks, xScale, yTicks, yScale, prefix) {
  mark(make('rect', g, {x:box.l, y:box.t, width:box.r - box.l, height:box.b - box.t, fill:'none', stroke:'#000', 'stroke-width':2}), prefix + '-frame');
  xTicks.forEach(v => {
    mark(make('line', g, {x1:xScale(v), x2:xScale(v), y1:box.b, y2:box.b + 10, stroke:'#000', 'stroke-width':2}), prefix + '-x-tick');
  });
  yTicks.forEach(v => {
    mark(make('line', g, {x1:box.l - 10, x2:box.l, y1:yScale(v), y2:yScale(v), stroke:'#000', 'stroke-width':2}), prefix + '-y-tick');
  });
}
function spikeOffset(i, k) { const f = (i + 1) * 0.618 + k * 0.37; return f - Math.floor(f); }
function bandPath(hi, lo, xS, yS, span) {
  let d = '';
  hi.forEach((v, i) => { d += (i ? 'L' : 'M') + xS(drawFirst + i / (hi.length - 1) * span).toFixed(1) + ' ' + yS(v).toFixed(1); });
  for (let i = lo.length - 1; i >= 0; i--) { d += 'L' + xS(drawFirst + i / (lo.length - 1) * span).toFixed(1) + ' ' + yS(lo[i]).toFixed(1); }
  return d + 'Z';
}

function tracePanel(cfg) {
  const g = mark(make('g', svg, {}), cfg.name + '-trace-panel');
  const box = {l:cfg.col.tL, r:cfg.col.tR, t:cfg.top, b:cfg.top + 362.4};
  const xS = linear(40000, cfg.col.x40, 70000, cfg.col.x70);
  const yS = linear(cfg.yCal[0], cfg.yCal[1], cfg.yCal[2], cfg.yCal[3]);
  axisDecor(g, box, drawTicks, xS, cfg.yTicks, yS, cfg.name);
  const span = drawLast - drawFirst;
  const mid = (cfg.coreHi[0] + cfg.coreLo[0]) / 2;
  mark(make('path', g, {d:bandPath(cfg.fringeHi, cfg.fringeLo, xS, yS, span), fill:chainColors[2], stroke:'none'}), cfg.name + '-trace-green-dense-band');
  cfg.hi.forEach((hi, k) => {
    let d = '';
    hi.forEach((v, i) => { const x = xS(drawFirst + (i + spikeOffset(i, k)) / hi.length * span).toFixed(1); d += 'M' + x + ' ' + yS(v).toFixed(1) + 'L' + x + ' ' + yS(mid).toFixed(1); });
    cfg.lo[k].forEach((v, i) => { const x = xS(drawFirst + (i + spikeOffset(i + 7, k)) / cfg.lo[k].length * span).toFixed(1); d += 'M' + x + ' ' + yS(v).toFixed(1) + 'L' + x + ' ' + yS(mid).toFixed(1); });
    mark(make('path', g, {d:d, fill:'none', stroke:chainColors[k], 'stroke-width':3}), cfg.name + '-trace-' + chainNames[k]);
  });
  mark(make('path', g, {d:bandPath(cfg.coreHi, cfg.coreLo, xS, yS, span), fill:chainColors[3], stroke:'none'}), cfg.name + '-trace-pink-dense-band');
  axisFrame(g, box, drawTicks, xS, cfg.yTicks, yS, cfg.name);
  cfg.yTicks.forEach((v, i) => {
    const t = make('text', g, {x:box.l - 18, y:yS(v) + 9, 'font-size':25, 'text-anchor':'end'});
    t.textContent = cfg.yLabels[i];
    mark(t, cfg.name + '-y-tick-label');
  });
  const lab = make('text', g, {transform:'translate(' + cfg.labelX + ',' + (box.t + box.b) / 2 + ') rotate(-90)', 'font-size':26, 'text-anchor':'middle'});
  lab.textContent = cfg.label;
  mark(lab, cfg.name + '-y-axis-title');
  if (cfg.bottom) {
    drawTicks.forEach((v, i) => {
      const t = make('text', g, {x:xS(v) + cfg.bottom.shift, y:box.b + cfg.bottom.base, 'font-size':25, 'text-anchor':'middle'});
      const a = make('tspan', t, {});
      a.textContent = drawTickMantissa[i] + '×10';
      const b = make('tspan', t, {dy:-9, 'font-size':17});
      b.textContent = '4';
      mark(t, cfg.name + '-x-tick-label');
    });
    const dl = make('text', g, {x:(box.l + box.r) / 2 + cfg.bottom.shift, y:box.b + 76, 'font-size':25, 'text-anchor':'middle'});
    dl.textContent = 'draw';
    mark(dl, cfg.name + '-x-axis-title');
  }
}

function densityPanel(cfg) {
  const g = mark(make('g', svg, {}), cfg.name + '-density-panel');
  const box = {l:cfg.col.dL, r:cfg.col.dR, t:cfg.top, b:cfg.top + 362.4};
  const xS = linear(cfg.xCal[0], cfg.xCal[1], cfg.xCal[2], cfg.xCal[3]);
  const yS = linear(0, cfg.y0, cfg.yTicks[1], cfg.y1);
  axisDecor(g, box, cfg.xTicks, xS, cfg.yTicks, yS, cfg.name + '-density');
  cfg.pdfs.forEach((pdf, k) => {
    const pts = pdf.map((v, i) => [xS(cfg.xs[i]), yS(v)]);
    const d = smooth(pts) + 'L' + xS(cfg.xs[cfg.xs.length - 1]).toFixed(1) + ' ' + yS(0).toFixed(1) + 'L' + xS(cfg.xs[0]).toFixed(1) + ' ' + yS(0).toFixed(1) + 'Z';
    mark(make('path', g, {d:d, fill:chainColors[k], 'fill-opacity':.78, stroke:'none'}), cfg.name + '-density-' + chainNames[k]);
  });
  const prior = cfg.priorX.map((v, i) => [xS(v), yS(cfg.priorY[i])]);
  mark(make('path', g, {d:smooth(prior), fill:'none', stroke:'#FF0000', 'stroke-width':4.5, 'stroke-linejoin':'round'}), cfg.name + '-prior-curve');
  axisFrame(g, box, cfg.xTicks, xS, cfg.yTicks, yS, cfg.name + '-density');
  cfg.xTicks.forEach((v, i) => {
    const t = make('text', g, {x:xS(v), y:box.b + 38.5, 'font-size':25, 'text-anchor':'middle'});
    t.textContent = cfg.xLabels[i];
    mark(t, cfg.name + '-density-x-tick-label');
  });
}

const rowTop = [1, 437.5, 875.7, 1312.3, 1749.3, 2187.3];

tracePanel({name:'alpha-wat-rsa05', label:'α_WAT_rsa05', labelX:22, col:colL, top:rowTop[0], yCal:[.25,266,.75,66.7], yTicks:awrYTicks, yLabels:awrYLabels,
  hi:[awrHiBlue,awrHiOrange,awrHiGreen,awrHiPink], lo:[awrLoBlue,awrLoOrange,awrLoGreen,awrLoPink], coreHi:awrCoreHi, coreLo:awrCoreLo, fringeHi:awrFringeHi, fringeLo:awrFringeLo});
densityPanel({name:'alpha-wat-rsa05', col:colL, top:rowTop[0], xCal:[0,704.4,1,997.5], xTicks:[0,.5,1], xLabels:['0.0','0.5','1.0'], yTicks:[0,1,2,3,4], y0:346.7, y1:264.3,
  xs:awrDensX, pdfs:[awrDensBlue,awrDensOrange,awrDensGreen,awrDensPink], priorX:betaPriorX, priorY:betaPriorPdf});

tracePanel({name:'delta-wat-rsa', label:'δ_WAT_rsa', labelX:43, col:colL, top:rowTop[1], yCal:[0,783.3,20,503], yTicks:dwrYTicks, yLabels:dwrYLabels,
  hi:[dwrHiBlue,dwrHiOrange,dwrHiGreen,dwrHiPink], lo:[dwrLoBlue,dwrLoOrange,dwrLoGreen,dwrLoPink], coreHi:dwrCoreHi, coreLo:dwrCoreLo, fringeHi:dwrFringeHi, fringeLo:dwrFringeLo});
densityPanel({name:'delta-wat-rsa', col:colL, top:rowTop[1], xCal:[0,716.3,20,941.8], xTicks:[0,10,20], xLabels:['0','10','20'], yTicks:[0,.05,.1,.15], y0:783.3, y1:683.7,
  xs:dwrDensX, pdfs:[dwrDensBlue,dwrDensOrange,dwrDensGreen,dwrDensPink], priorX:dwrPriorX, priorY:dwrPriorPdf});

tracePanel({name:'alpha-nut-amc05', label:'α_NUT_amc05', labelX:35, col:colL, top:rowTop[2], yCal:[1,892.3,.2,1171.3], yTicks:unitYTicks, yLabels:unitYLabels,
  hi:[anaHiBlue,anaHiOrange,anaHiGreen,anaHiPink], lo:[anaLoBlue,anaLoOrange,anaLoGreen,anaLoPink], coreHi:anaCoreHi, coreLo:anaCoreLo, fringeHi:anaFringeHi, fringeLo:anaFringeLo});
densityPanel({name:'alpha-nut-amc05', col:colL, top:rowTop[2], xCal:[0,705,1,979], xTicks:[0,.5,1], xLabels:['0.0','0.5','1.0'], yTicks:[0,1,2,3,4], y0:1221.7, y1:1139.4,
  xs:anaDensX, pdfs:[anaDensBlue,anaDensOrange,anaDensGreen,anaDensPink], priorX:betaPriorX, priorY:betaPriorPdf});

tracePanel({name:'alpha-nut-rsa05', label:'α_NUT_rsa05', labelX:35, col:colL, top:rowTop[3], yCal:[1,1329,.2,1638.3], yTicks:unitYTicks, yLabels:unitYLabels,
  hi:[anrHiBlue,anrHiOrange,anrHiGreen,anrHiPink], lo:[anrLoBlue,anrLoOrange,anrLoGreen,anrLoPink], coreHi:anrCoreHi, coreLo:anrCoreLo, fringeHi:anrFringeHi, fringeLo:anrFringeLo});
densityPanel({name:'alpha-nut-rsa05', col:colL, top:rowTop[3], xCal:[0,702.4,1,986.3], xTicks:[0,.5,1], xLabels:['0.0','0.5','1.0'], yTicks:[0,1,2,3,4,5,6], y0:1658.3, y1:1603.4,
  xs:anrDensX, pdfs:[anrDensBlue,anrDensOrange,anrDensGreen,anrDensPink], priorX:betaPriorX, priorY:betaPriorPdf});

tracePanel({name:'kappa-root-amc', label:'κ_ROOT_amc', labelX:35, col:colL, top:rowTop[4], yCal:[.4,1802.3,.1,2085], yTicks:kraYTicks, yLabels:kraYLabels,
  hi:[kraHiBlue,kraHiOrange,kraHiGreen,kraHiPink], lo:[kraLoBlue,kraLoOrange,kraLoGreen,kraLoPink], coreHi:kraCoreHi, coreLo:kraCoreLo, fringeHi:kraFringeHi, fringeLo:kraFringeLo});
densityPanel({name:'kappa-root-amc', col:colL, top:rowTop[4], xCal:[0,701.7,.4,939.2], xTicks:[0,.2,.4], xLabels:['0.0','0.2','0.4'], yTicks:[0,2,4,6,8], y0:2095, y1:2023.2,
  xs:kraDensX, pdfs:[kraDensBlue,kraDensOrange,kraDensGreen,kraDensPink], priorX:kraPriorX, priorY:kraPriorPdf});

tracePanel({name:'kappa-root-rsa', label:'κ_ROOT_rsa', labelX:20, col:colL, top:rowTop[5], yCal:[0,2533.7,.2,2252], yTicks:krrYTicks, yLabels:krrYLabels,
  hi:[krrHiBlue,krrHiOrange,krrHiGreen,krrHiPink], lo:[krrLoBlue,krrLoOrange,krrLoGreen,krrLoPink], coreHi:krrCoreHi, coreLo:krrCoreLo, fringeHi:krrFringeHi, fringeLo:krrFringeLo, bottom:{shift:10.3, base:42.5}});
densityPanel({name:'kappa-root-rsa', col:colL, top:rowTop[5], xCal:[0,709.7,.4,940.5], xTicks:[0,.2,.4], xLabels:['0.0','0.2','0.4'], yTicks:[0,2.5,5,7.5], y0:2533.3, y1:2430.3,
  xs:krrDensX, pdfs:[krrDensBlue,krrDensOrange,krrDensGreen,krrDensPink], priorX:krrPriorX, priorY:krrPriorPdf});

tracePanel({name:'delta-nut-rsa', label:'δ_NUT_rsa', labelX:1088, col:colR, top:rowTop[0], yCal:[0,347.7,20,84], yTicks:dnrYTicks, yLabels:dnrYLabels,
  hi:[dnrHiBlue,dnrHiOrange,dnrHiGreen,dnrHiPink], lo:[dnrLoBlue,dnrLoOrange,dnrLoGreen,dnrLoPink], coreHi:dnrCoreHi, coreLo:dnrCoreLo, fringeHi:dnrFringeHi, fringeLo:dnrFringeLo});
densityPanel({name:'delta-nut-rsa', col:colR, top:rowTop[0], xCal:[0,1771.4,20,1969.2], xTicks:[0,10,20], xLabels:['0','10','20'], yTicks:[0,.02,.04,.06,.08], y0:347.7, y1:268.7,
  xs:dnrDensX, pdfs:[dnrDensBlue,dnrDensOrange,dnrDensGreen,dnrDensPink], priorX:dnrPriorX, priorY:dnrPriorPdf});

tracePanel({name:'delta-nut-amc', label:'δ_NUT_amc', labelX:1088, col:colR, top:rowTop[1], yCal:[0,784.3,10,520.7], yTicks:dnaYTicks, yLabels:dnaYLabels,
  hi:[dnaHiBlue,dnaHiOrange,dnaHiGreen,dnaHiPink], lo:[dnaLoBlue,dnaLoOrange,dnaLoGreen,dnaLoPink], coreHi:dnaCoreHi, coreLo:dnaCoreLo, fringeHi:dnaFringeHi, fringeLo:dnaFringeLo});
densityPanel({name:'delta-nut-amc', col:colR, top:rowTop[1], xCal:[0,1774.7,10,1966.5], xTicks:[0,5,10], xLabels:['0','5','10'], yTicks:[0,.05,.1], y0:784, y1:641,
  xs:dnaDensX, pdfs:[dnaDensBlue,dnaDensOrange,dnaDensGreen,dnaDensPink], priorX:dnaPriorX, priorY:dnaPriorPdf});

tracePanel({name:'phi-trsa', label:'ϕ_TRSA', labelX:1067, col:colR, top:rowTop[2], yCal:[0,1222.3,.06,920.7], yTicks:ptrYTicks, yLabels:ptrYLabels,
  hi:[ptrHiBlue,ptrHiOrange,ptrHiGreen,ptrHiPink], lo:[ptrLoBlue,ptrLoOrange,ptrLoGreen,ptrLoPink], coreHi:ptrCoreHi, coreLo:ptrCoreLo, fringeHi:ptrFringeHi, fringeLo:ptrFringeLo});
densityPanel({name:'phi-trsa', col:colR, top:rowTop[2], xCal:[0,1757.5,.1,2042.6], xTicks:[0,.05,.1], xLabels:['0.00','0.05','0.10'], yTicks:[0,10,20,30,40], y0:1221, y1:1150.7,
  xs:ptrDensX, pdfs:[ptrDensBlue,ptrDensOrange,ptrDensGreen,ptrDensPink], priorX:ptrPriorX, priorY:ptrPriorPdf});

tracePanel({name:'phi-tamc', label:'ϕ_TAMC', labelX:1067, col:colR, top:rowTop[3], yCal:[.05,1669,.15,1402.3], yTicks:ptaYTicks, yLabels:ptaYLabels,
  hi:[ptaHiBlue,ptaHiOrange,ptaHiGreen,ptaHiPink], lo:[ptaLoBlue,ptaLoOrange,ptaLoGreen,ptaLoPink], coreHi:ptaCoreHi, coreLo:ptaCoreLo, fringeHi:ptaFringeHi, fringeLo:ptaFringeLo});
densityPanel({name:'phi-tamc', col:colR, top:rowTop[3], xCal:[.05,1751.6,.25,2042.6], xTicks:[.05,.1,.15,.2,.25], xLabels:['0.05','0.10','0.15','0.20','0.25'], yTicks:[0,10,20], y0:1659.3, y1:1522.7,
  xs:ptaDensX, pdfs:[ptaDensBlue,ptaDensOrange,ptaDensGreen,ptaDensPink], priorX:ptaPriorX, priorY:ptaPriorPdf});

tracePanel({name:'sigma-squared', label:'σ²', labelX:1052, col:colR, top:rowTop[4], yCal:[.325,1812.3,.225,2064.7], yTicks:sigYTicks, yLabels:sigYLabels,
  hi:[sigHiBlue,sigHiOrange,sigHiGreen,sigHiPink], lo:[sigLoBlue,sigLoOrange,sigLoGreen,sigLoPink], coreHi:sigCoreHi, coreLo:sigCoreLo, fringeHi:sigFringeHi, fringeLo:sigFringeLo, bottom:{shift:0, base:40}});
densityPanel({name:'sigma-squared', col:colR, top:rowTop[4], xCal:[0,1746.3,20,2051.8], xTicks:[0,5,10,15,20], xLabels:['0','5','10','15','20'], yTicks:[0,10,20], y0:2096, y1:1978.3,
  xs:sigDensX, pdfs:[sigDensBlue,sigDensOrange,sigDensGreen,sigDensPink], priorX:sigPriorX, priorY:sigPriorPdf});
</script>
</body></html>
